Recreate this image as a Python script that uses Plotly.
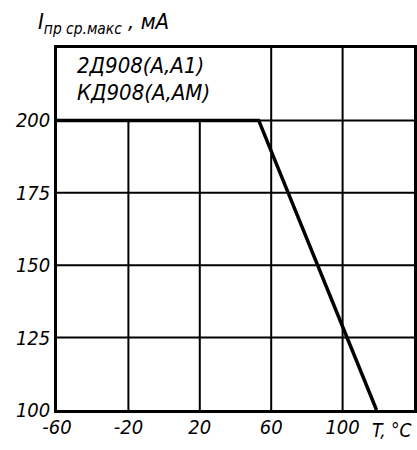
import plotly.graph_objects as go

# Data
temps = [-60, 53, 119]          # T, °C
currents = [200, 200, 100]      # I пр ср.макс, мА
x_ticks = [-60, -20, 20, 60, 100]
x_tick_labels = ["-60", "-20", "20", "60", "100"]
y_ticks = [100, 125, 150, 175, 200]
y_tick_labels = ["100", "125", "150", "175", "200"]
x_range = [-60, 140]
y_range = [100, 225]
legend_lines = ["2Д908(А,А1)", "КД908(А,АМ)"]

FONT = "DejaVu Sans Condensed"

fig = go.Figure()

# grid lines drawn as shapes (vertical ones left of 60 stop under the caption box)
shapes = []
for xv in x_ticks[1:]:
    top = y_ticks[-1] if xv < 60 else y_range[1]
    shapes.append(dict(type="line", xref="x", yref="y", x0=xv, x1=xv, y0=y_range[0], y1=top,
                       line=dict(color="black", width=2), layer="below"))
for yv in y_ticks[1:]:
    shapes.append(dict(type="line", xref="x", yref="y", x0=x_range[0], x1=x_range[1], y0=yv, y1=yv,
                       line=dict(color="black", width=2), layer="below"))

fig.add_trace(go.Scatter(x=temps, y=currents, mode="lines",
                         line=dict(color="black", width=3.5), hoverinfo="skip", showlegend=False))

fig.update_layout(
    width=417, height=450,
    margin=dict(l=57, r=3, t=48, b=40),
    paper_bgcolor="white", plot_bgcolor="white",
    shapes=shapes,
    showlegend=False,
    font=dict(family=FONT, color="black"),
)
fig.update_xaxes(range=x_range, tickvals=x_ticks, ticktext=x_tick_labels, showgrid=False,
                 zeroline=False, showline=True, mirror=True, linecolor="black", linewidth=2.5,
                 ticks="", automargin=False,
                 tickfont=dict(size=20, family=FONT, style="italic"), ticklabelstandoff=-3)
fig.update_yaxes(range=y_range, tickvals=y_ticks, ticktext=y_tick_labels, showgrid=False,
                 zeroline=False, showline=True, mirror=True, linecolor="black", linewidth=2.5,
                 ticks="", automargin=False,
                 tickfont=dict(size=20, family=FONT, style="italic"), ticklabelstandoff=0)

# caption text
for yv, t in zip([219, 209.6], legend_lines):
    fig.add_annotation(x=-50, y=yv, xref="x", yref="y", text=t, showarrow=False,
                       xanchor="left", yanchor="middle",
                       font=dict(size=22, family=FONT, style="italic"))

# axis titles
fig.add_annotation(xref="paper", yref="paper", x=-0.06, y=1.0, yshift=25, xanchor="left", yanchor="middle",
                   text="I<sub>пр ср.макс</sub> , мА", showarrow=False,
                   font=dict(size=22, family=FONT, style="italic"))
fig.add_annotation(xref="paper", yref="paper", x=1.0, y=0, yshift=-20, xanchor="right", yanchor="middle",
                   text="T, °C", showarrow=False,
                   font=dict(size=19, family=FONT, style="italic"))

fig.write_html("out.html", config={"displayModeBar": False},
               post_script="document.body.style.margin='0';document.body.style.overflow='hidden';")
